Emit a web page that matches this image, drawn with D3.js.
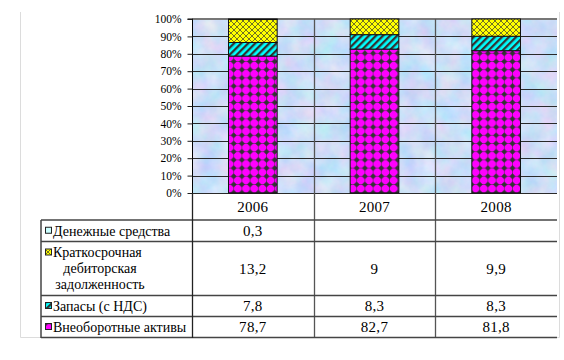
<!DOCTYPE html>
<html><head><meta charset="utf-8">
<script src="https://cdn.jsdelivr.net/npm/d3@7"></script>
<style>body{margin:0;background:#fff}svg{display:block}</style>
</head><body><svg id="c" width="564" height="360"></svg>
<script>
const years = ["2006", "2007", "2008"];
const seriesNames = ["Внеоборотные активы", "Запасы (с НДС)", "Краткосрочная дебиторская задолженность", "Денежные средства"];
const nonCurrent = [78.7, 82.7, 81.8];
const inventory = [7.8, 8.3, 8.3];
const receivables = [13.2, 9, 9.9];
const cash = [0.3, null, null];
const yTicks = [0, 0.1, 0.2, 0.3, 0.4, 0.5, 0.6, 0.7, 0.8, 0.9, 1];

const FONT = "Liberation Serif";
const seriesValues = [nonCurrent, inventory, receivables, cash];
const keys = ["a", "b", "c", "d"];
const rows = years.map((y, i) => ({year: y, a: nonCurrent[i], b: inventory[i], c: receivables[i], d: cash[i] || 0}));

const svg = d3.select("#c");
const L = 192, R = 557, T = 19, B = 193;
const x = d3.scaleBand().domain(years).range([L, R]).paddingInner(0.6).paddingOuter(0.3);
const y = d3.scaleLinear().domain([0, 1]).range([B, T]);

const defs = svg.append("defs");
const f = defs.append("filter").attr("id", "marble").attr("x", 0).attr("y", 0).attr("width", 1).attr("height", 1)
  .attr("color-interpolation-filters", "sRGB");
f.append("feTurbulence").attr("type", "fractalNoise").attr("baseFrequency", "0.05").attr("numOctaves", 4).attr("seed", 7);
f.append("feColorMatrix").attr("type", "matrix")
  .attr("values", "0.28 0 0 0 0.66  0 0.16 0 0 0.79  0 0 0.08 0 0.93  0 0 0 0 1");

const pM = defs.append("pattern").attr("id", "pM").attr("patternUnits", "userSpaceOnUse").attr("width", 8.2).attr("height", 8.2);
pM.append("rect").attr("width", 8.2).attr("height", 8.2).attr("fill", "#ff00ff");
pM.append("polygon").attr("points", "4.1,1.1 7.1,4.1 4.1,7.1 1.1,4.1").attr("fill", "#333");
pM.append("path").attr("d", "M0,4.1H8.2M4.1,0V8.2").attr("stroke", "#333").attr("stroke-width", 0.5);

const pC = defs.append("pattern").attr("id", "pC").attr("patternUnits", "userSpaceOnUse").attr("width", 5).attr("height", 5)
  .attr("patternTransform", "rotate(45)");
pC.append("rect").attr("width", 5).attr("height", 5).attr("fill", "#00ffff");
pC.append("rect").attr("width", 2.3).attr("height", 5).attr("fill", "#333");

const pY = defs.append("pattern").attr("id", "pY").attr("patternUnits", "userSpaceOnUse").attr("width", 6).attr("height", 6);
pY.append("rect").attr("width", 6).attr("height", 6).attr("fill", "#ffff00");
pY.append("path").attr("d", "M0,0L6,6M6,0L0,6").attr("stroke", "#333").attr("stroke-width", 0.7);

const pD = defs.append("pattern").attr("id", "pD").attr("patternUnits", "userSpaceOnUse").attr("width", 4).attr("height", 4);
pD.append("rect").attr("width", 4).attr("height", 4).attr("fill", "#ccffff");

const fills = ["url(#pM)", "url(#pC)", "url(#pY)", "url(#pD)"];

svg.append("path").attr("d", `M20.5,12V337.5H559.5V12`).attr("fill", "none").attr("stroke", "#dcdcdc");

svg.append("rect").attr("x", L).attr("y", T).attr("width", R - L).attr("height", B - T).attr("filter", "url(#marble)");

svg.append("g").selectAll("line").data(yTicks.slice(0, -1)).join("line")
  .attr("x1", L).attr("x2", R).attr("y1", d => Math.round(y(d)) + 0.5).attr("y2", d => Math.round(y(d)) + 0.5)
  .attr("stroke", "#2a2a2a").attr("stroke-width", 1);
svg.append("line").attr("x1", L).attr("x2", R).attr("y1", T).attr("y2", T).attr("stroke", "#777").attr("stroke-width", 2);

svg.append("g").selectAll("line").data([x.step() * 1, x.step() * 2]).join("line")
  .attr("x1", d => Math.round(L + d) + 0.5).attr("x2", d => Math.round(L + d) + 0.5)
  .attr("y1", T).attr("y2", 337).attr("stroke", "#555").attr("stroke-width", 1.3);

const stack = d3.stack().keys(keys).offset(d3.stackOffsetExpand);
const stacked = stack(rows);
svg.append("g").selectAll("g").data(stacked).join("g").attr("fill", (d, i) => fills[i])
  .selectAll("rect").data(d => d).join("rect")
  .attr("x", d => x(d.data.year)).attr("width", x.bandwidth())
  .attr("y", d => y(d[1])).attr("height", d => Math.max(0, y(d[0]) - y(d[1])))
  .attr("stroke", "#111").attr("stroke-width", 1);

const ax = svg.append("g").attr("transform", `translate(${L + 0.5},0)`)
  .call(d3.axisLeft(y).tickValues(yTicks).tickFormat(d3.format(".0%")).tickSize(5).tickPadding(6));
ax.attr("font-family", FONT).attr("font-size", 11.5);
ax.select(".domain").attr("stroke", "#000").attr("d", `M-5,${T}H0V${B}`);
ax.selectAll(".tick line").attr("stroke", "#222");
ax.selectAll(".tick text").attr("fill", "#000");

const TL = 41;
const rowEdges = [193, 220, 241.5, 295.5, 316.5, 337.5];
const tg = svg.append("g").attr("font-family", FONT);
tg.selectAll("line.h").data(rowEdges.slice(1)).join("line").attr("class", "h")
  .attr("x1", TL).attr("x2", R).attr("y1", d => d).attr("y2", d => d).attr("stroke", "#444").attr("stroke-width", 1.5);
tg.append("line").attr("x1", TL).attr("x2", TL).attr("y1", 220).attr("y2", 338).attr("stroke", "#444").attr("stroke-width", 1.5);
tg.append("line").attr("x1", L + 0.5).attr("x2", L + 0.5).attr("y1", 193).attr("y2", 338).attr("stroke", "#222").attr("stroke-width", 1.3);

const colCenter = d => x(d) + x.bandwidth() / 2;
tg.selectAll("text.yr").data(years).join("text").attr("class", "yr")
  .attr("x", colCenter).attr("y", (rowEdges[0] + rowEdges[1]) / 2).attr("dy", "0.35em")
  .attr("text-anchor", "middle").attr("font-size", 15).attr("letter-spacing", 0.3).text(d => d);

const tableOrder = [3, 2, 1, 0];
const fmt = v => v == null ? "" : String(v).replace(".", ",");
tableOrder.forEach((si, r) => {
  const top = rowEdges[r + 1], bot = rowEdges[r + 2], cy = (top + bot) / 2;
  const lines = si === 2 ? ["Краткосрочная", "дебиторская", "задолженность"] : [seriesNames[si]];
  const lh = 16;
  const firstY = cy - (lines.length - 1) * lh / 2;
  tg.append("rect").attr("x", 45.5).attr("y", firstY - 3.5).attr("width", 6).attr("height", 6)
    .attr("fill", fills[si]).attr("stroke", "#222").attr("stroke-width", 1);
  lines.forEach((t, k) => {
    const tx = tg.append("text").attr("y", firstY + k * lh).attr("dy", "0.35em").attr("font-size", 14).text(t);
    if (lines.length > 1) tx.attr("x", k === 0 ? 53 : 100).attr("text-anchor", k === 0 ? "start" : "middle");
    else tx.attr("x", 53);
  });
  tg.selectAll(null).data(years).join("text")
    .attr("x", colCenter).attr("y", cy).attr("dy", "0.35em").attr("text-anchor", "middle").attr("font-size", 15)
    .attr("letter-spacing", 0.3)
    .text((d, i) => fmt(seriesValues[si][i]));
});
</script></body></html>
